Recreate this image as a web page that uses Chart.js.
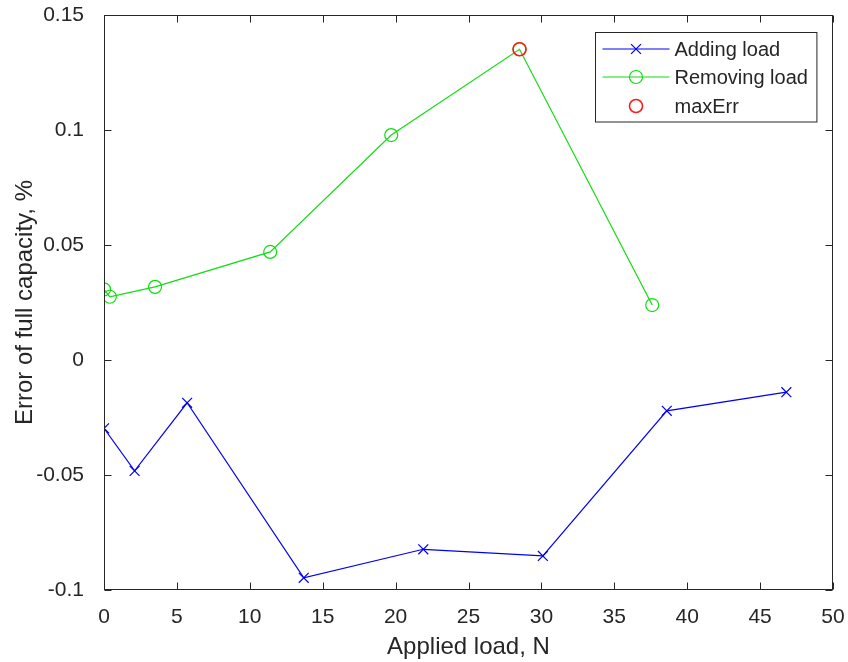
<!DOCTYPE html>
<html>
<head>
<meta charset="utf-8">
<title>Error of full capacity</title>
<script src="https://cdn.jsdelivr.net/npm/chart.js@4.4.1/dist/chart.umd.min.js"></script>
<style>
  html, body { margin: 0; padding: 0; background: #fff; }
  #chart { display: block; }
</style>
</head>
<body>
<canvas id="chart" width="848" height="662"></canvas>
<script>
// Measured calibration data
const addLoad = [0, 2.1, 5.7, 13.7, 21.9, 30.1, 38.6, 46.8];
const addErr = [-0.0297, -0.0482, -0.0186, -0.0947, -0.0823, -0.0852, -0.0221, -0.0140];
const removeLoad = [0, 0.4, 3.5, 11.4, 19.7, 28.5, 37.6];
const removeErr = [0.0307, 0.0275, 0.0318, 0.0470, 0.0978, 0.1351, 0.0239];
const maxErrLoad = [28.5];
const maxErrValue = [0.1351];

const xTicks = [0, 5, 10, 15, 20, 25, 30, 35, 40, 45, 50];
const yTicks = [-0.1, -0.05, 0, 0.05, 0.1, 0.15];

const FONT = "'Liberation Sans', Arial, Helvetica, sans-serif";
const AXIS_COLOR = '#262626';
const BLUE = '#0000f0';
const GREEN = '#10dd10';
const RED = '#ff1a1a';

function toPoints(xs, ys) {
    return xs.map((x, i) => ({ x: x, y: ys[i] }));
}

// Box around the axes with inward tick marks on all four sides
const axesBox = {
    id: 'axesBox',
    afterDraw(chart) {
        const ctx = chart.ctx;
        const a = chart.chartArea;
        const xs = chart.scales.x;
        const ys = chart.scales.y;
        const len = 7;
        const L = Math.round(a.left) + 0.5, R = Math.round(a.right) - 0.5;
        const T = Math.round(a.top) + 0.5, B = Math.round(a.bottom) - 0.5;
        ctx.save();
        ctx.strokeStyle = AXIS_COLOR;
        ctx.lineWidth = 1;
        ctx.strokeRect(L, T, R - L, B - T);
        ctx.beginPath();
        xs.ticks.forEach(t => {
            const px = Math.round(xs.getPixelForValue(t.value)) + 0.5;
            ctx.moveTo(px, B); ctx.lineTo(px, B - len);
            ctx.moveTo(px, T); ctx.lineTo(px, T + len);
        });
        ys.ticks.forEach(t => {
            const py = Math.round(ys.getPixelForValue(t.value)) + 0.5;
            ctx.moveTo(L, py); ctx.lineTo(L + len, py);
            ctx.moveTo(R, py); ctx.lineTo(R - len, py);
        });
        ctx.stroke();
        ctx.restore();
    }
};

// Legend drawn inside the axes, top right, with line + marker samples
const insideLegend = {
    id: 'insideLegend',
    afterDraw(chart) {
        const ctx = chart.ctx;
        const a = chart.chartArea;
        const sets = chart.data.datasets;
        const rowH = 28.5;
        const sampleW = 67;
        ctx.save();
        ctx.font = '20px ' + FONT;
        const textW = Math.max(...sets.map(d => ctx.measureText(d.label).width));
        const w = 7 + sampleW + 5 + textW + 9;
        const h = sets.length * rowH + 4;
        const x0 = Math.round(a.right - 17 - w) + 0.5;
        const y0 = Math.round(a.top + 17) + 0.5;
        ctx.fillStyle = '#fff';
        ctx.fillRect(x0, y0, w, h);
        ctx.strokeStyle = AXIS_COLOR;
        ctx.lineWidth = 1;
        ctx.strokeRect(x0, y0, w, h);
        sets.forEach((d, i) => {
            const cy = Math.round(y0 + 16 + i * rowH);
            const sx = x0 + 7;
            const mx = sx + sampleW / 2;
            if (d.showLine !== false) {
                ctx.strokeStyle = d.borderColor;
                ctx.lineWidth = d.borderWidth;
                ctx.beginPath();
                ctx.moveTo(sx, cy); ctx.lineTo(sx + sampleW, cy);
                ctx.stroke();
            }
            ctx.strokeStyle = d.pointBorderColor;
            ctx.lineWidth = d.pointBorderWidth;
            ctx.beginPath();
            if (d.pointStyle === 'circle') {
                ctx.arc(mx, cy, d.pointRadius, 0, Math.PI * 2);
            } else {
                const o = d.pointRadius * Math.SQRT1_2;
                ctx.moveTo(mx - o, cy - o); ctx.lineTo(mx + o, cy + o);
                ctx.moveTo(mx - o, cy + o); ctx.lineTo(mx + o, cy - o);
            }
            ctx.stroke();
            ctx.fillStyle = AXIS_COLOR;
            ctx.textBaseline = 'middle';
            ctx.textAlign = 'left';
            ctx.fillText(d.label, sx + sampleW + 5, cy + 1);
        });
        ctx.restore();
    }
};

const ctx = document.getElementById('chart').getContext('2d');
const chart = new Chart(ctx, {
    type: 'scatter',
    data: {
        datasets: [
            {
                label: 'Adding load',
                data: toPoints(addLoad, addErr),
                showLine: true,
                borderColor: BLUE,
                borderWidth: 1.2,
                pointStyle: 'crossRot',
                pointRadius: 7,
                pointBorderWidth: 1.2,
                pointBorderColor: BLUE,
                pointBackgroundColor: 'transparent',
                order: 2
            },
            {
                label: 'Removing load',
                data: toPoints(removeLoad, removeErr),
                showLine: true,
                borderColor: GREEN,
                borderWidth: 1.2,
                pointStyle: 'circle',
                pointRadius: 6.5,
                pointBorderWidth: 1.2,
                pointBorderColor: GREEN,
                pointBackgroundColor: 'transparent',
                order: 1
            },
            {
                label: 'maxErr',
                data: toPoints(maxErrLoad, maxErrValue),
                showLine: false,
                borderColor: RED,
                borderWidth: 1.2,
                pointStyle: 'circle',
                pointRadius: 6.5,
                pointBorderWidth: 1.6,
                pointBorderColor: RED,
                pointBackgroundColor: 'transparent',
                order: 0
            }
        ]
    },
    options: {
        responsive: false,
        devicePixelRatio: 1,
        animation: false,
        layout: { padding: { top: 15, right: 15, left: 0, bottom: 0 } },
        plugins: {
            legend: { display: false },
            tooltip: { enabled: false }
        },
        scales: {
            x: {
                type: 'linear',
                min: 0,
                max: 50,
                afterBuildTicks: s => { s.ticks = xTicks.map(v => ({ value: v })); },
                afterFit: s => {
                    s.height = 72;
                    s.paddingLeft = 0;
                    s.paddingRight = 0;
                },
                grid: { display: false },
                border: { display: false },
                ticks: {
                    color: AXIS_COLOR,
                    font: { family: FONT, size: 21 },
                    padding: 7,
                    maxRotation: 0,
                    autoSkip: false,
                    callback: v => String(v)
                },
                title: {
                    display: true,
                    text: 'Applied load, N',
                    color: AXIS_COLOR,
                    font: { family: FONT, size: 24 },
                    padding: { top: 2, bottom: 0 }
                }
            },
            y: {
                type: 'linear',
                min: -0.1,
                max: 0.15,
                afterBuildTicks: s => { s.ticks = yTicks.map(v => ({ value: v })); },
                afterFit: s => {
                    s.width = 104;
                    s.paddingTop = 0;
                    s.paddingBottom = 0;
                },
                grid: { display: false },
                border: { display: false },
                ticks: {
                    color: AXIS_COLOR,
                    font: { family: FONT, size: 21 },
                    padding: 12,
                    autoSkip: false,
                    callback: v => String(v)
                },
                title: {
                    display: true,
                    text: 'Error of full capacity, %',
                    color: AXIS_COLOR,
                    font: { family: FONT, size: 24 },
                    padding: { top: 11, bottom: 0 }
                }
            }
        }
    },
    plugins: [axesBox, insideLegend]
});
</script>
</body>
</html>
